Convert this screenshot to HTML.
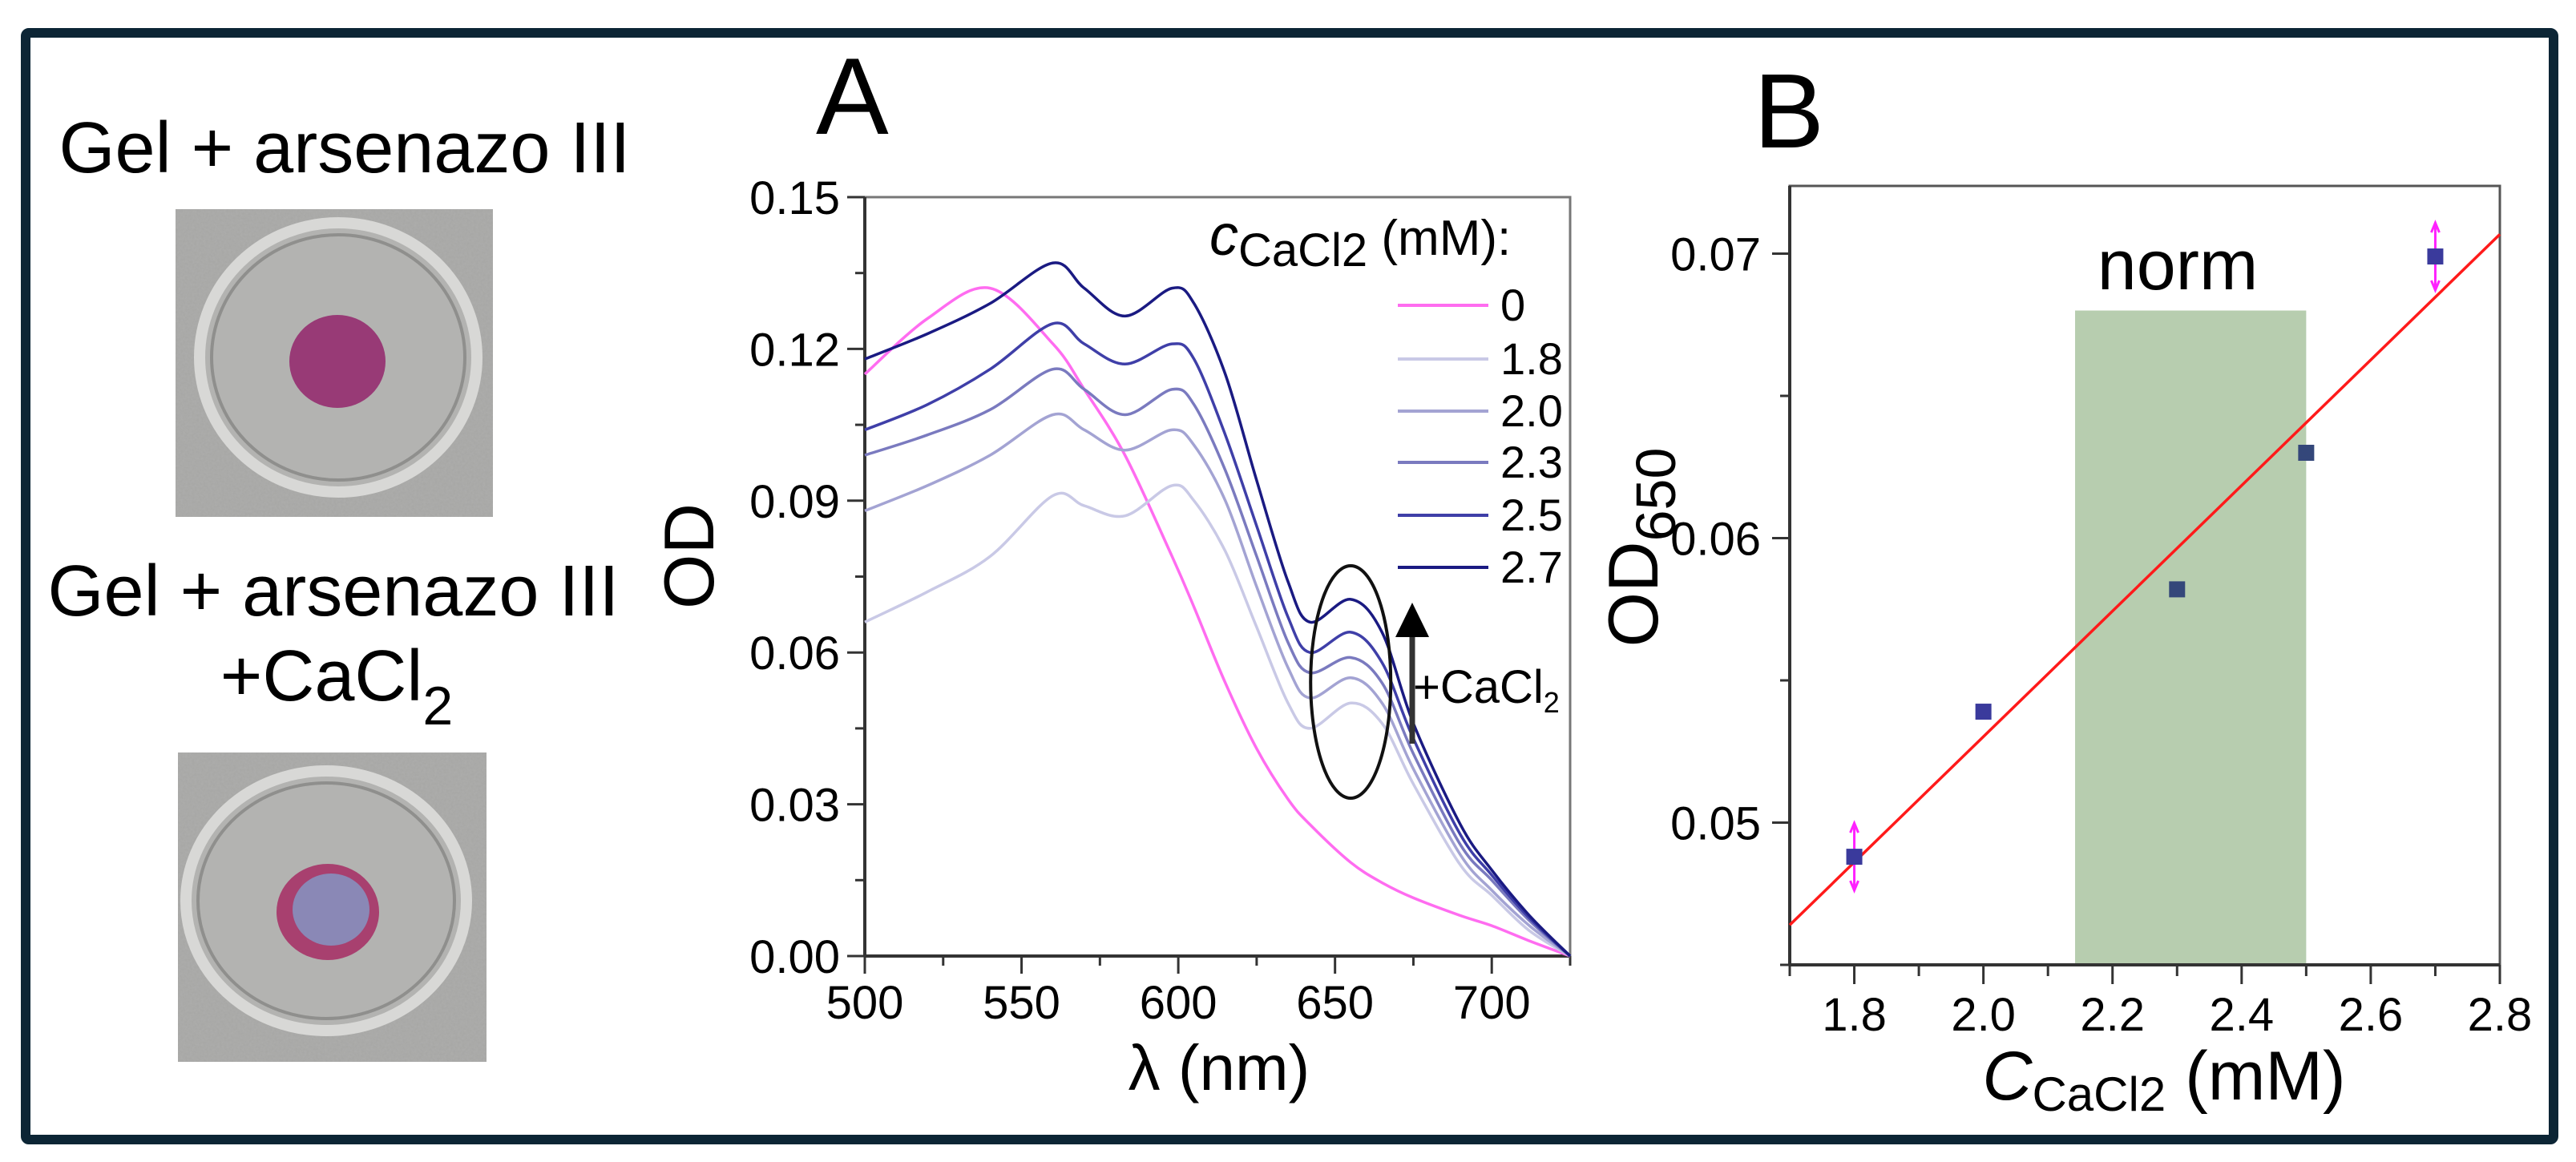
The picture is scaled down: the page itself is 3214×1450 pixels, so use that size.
<!DOCTYPE html>
<html><head><meta charset="utf-8"><style>
html,body{margin:0;padding:0;background:#fff;}
svg{display:block;font-family:"Liberation Sans",Arial,sans-serif;}
</style></head><body>
<svg id="fig" width="3214" height="1450" viewBox="0 0 3214 1450" xmlns="http://www.w3.org/2000/svg">
<defs>
<filter id="grain" x="0" y="0" width="100%" height="100%">
<feTurbulence type="fractalNoise" baseFrequency="0.35" numOctaves="2" seed="3" result="n"/>
<feColorMatrix type="matrix" values="0 0 0 0 0.5  0 0 0 0 0.5  0 0 0 0 0.5  0 0 0 0.35 0"/>
</filter>
</defs>
<rect x="0" y="0" width="3214" height="1450" fill="#fff"/>
<rect x="32" y="41" width="3154" height="1381" fill="none" stroke="#0c2535" stroke-width="12" rx="4"/>

<g>
<text x="430" y="215" font-size="90" text-anchor="middle">Gel + arsenazo III</text>
<g>
<rect x="219" y="261" width="396" height="384" fill="#a6a6a4"/>
<rect x="219" y="261" width="396" height="384" filter="url(#grain)"/>
<ellipse cx="422" cy="446" rx="173" ry="168" fill="#b3b3b1" stroke="#d8d8d6" stroke-width="14"/>
<ellipse cx="422" cy="446" rx="158" ry="153" fill="none" stroke="#8f8f8d" stroke-width="4"/>
<ellipse cx="421" cy="451" rx="60" ry="58" fill="#983a76"/>
</g>
<text x="416" y="768" font-size="90" text-anchor="middle">Gel + arsenazo III</text>
<text x="420" y="874" font-size="90" text-anchor="middle">+CaCl<tspan font-size="68" dy="30">2</tspan></text>
<g>
<rect x="222" y="939" width="385" height="386" fill="#a6a6a4"/>
<rect x="222" y="939" width="385" height="386" filter="url(#grain)"/>
<ellipse cx="407" cy="1124" rx="175" ry="162" fill="#b3b3b1" stroke="#d8d8d6" stroke-width="14"/>
<ellipse cx="407" cy="1124" rx="160" ry="147" fill="none" stroke="#8f8f8d" stroke-width="4"/>
<ellipse cx="409" cy="1138" rx="64" ry="60" fill="#a8406f"/>
<ellipse cx="413" cy="1135" rx="48" ry="45" fill="#8a88b6"/>
</g>
</g>

<g id="chartA"></g>
<g id="chartB"></g>
</svg>
<script>
// ===== Chart A data =====
const waveA = [500,520,540,560,570,583,598,605,615,625,635,642,655,665,675,690,700,712,725];
const concLabelsA = ["0","1.8","2.0","2.3","2.5","2.7"];
const od_0   = [0.115,0.126,0.132,0.121,0.112,0.099,0.079,0.069,0.054,0.041,0.031,0.026,0.0185,0.0145,0.0115,0.008,0.006,0.003,0];
const od_1_8 = [0.066,0.072,0.079,0.091,0.089,0.087,0.093,0.090,0.080,0.065,0.050,0.045,0.050,0.046,0.034,0.018,0.012,0.005,0];
const od_2_0 = [0.088,0.093,0.099,0.107,0.104,0.100,0.104,0.101,0.090,0.073,0.057,0.051,0.055,0.050,0.037,0.020,0.013,0.006,0];
const od_2_3 = [0.099,0.103,0.108,0.116,0.112,0.107,0.112,0.109,0.096,0.079,0.062,0.056,0.059,0.054,0.040,0.022,0.015,0.007,0];
const od_2_5 = [0.104,0.109,0.116,0.125,0.121,0.117,0.121,0.118,0.103,0.085,0.067,0.060,0.064,0.058,0.043,0.024,0.016,0.0075,0];
const od_2_7 = [0.118,0.123,0.129,0.137,0.132,0.1265,0.132,0.129,0.115,0.094,0.074,0.066,0.0705,0.064,0.046,0.026,0.017,0.008,0];
const xTicksA = [500,550,600,650,700];
const yTicksA = [0,0.03,0.06,0.09,0.12,0.15];
// ===== Chart B data =====
const concB = [1.8,2.0,2.3,2.5,2.7];
const od650B = [0.0488,0.0539,0.0582,0.0630,0.0699];
const xTicksB = [1.8,2.0,2.2,2.4,2.6,2.8];
const yTicksB = [0.05,0.06,0.07];
const normRange = [2.142,2.5];
const normTop = [0.068];

const NS="http://www.w3.org/2000/svg";
function mk(tag, attrs, parent, txt){const e=document.createElementNS(NS,tag);for(const k in attrs)e.setAttribute(k,attrs[k]);if(txt!==undefined)e.textContent=txt;parent.appendChild(e);return e;}
function smooth(pts){let d="M"+pts[0][0].toFixed(1)+","+pts[0][1].toFixed(1);for(let i=0;i<pts.length-1;i++){const p0=pts[Math.max(0,i-1)],p1=pts[i],p2=pts[i+1],p3=pts[Math.min(pts.length-1,i+2)];const c1=[p1[0]+(p2[0]-p0[0])/6,p1[1]+(p2[1]-p0[1])/6],c2=[p2[0]-(p3[0]-p1[0])/6,p2[1]-(p3[1]-p1[1])/6];d+=" C"+c1[0].toFixed(1)+","+c1[1].toFixed(1)+" "+c2[0].toFixed(1)+","+c2[1].toFixed(1)+" "+p2[0].toFixed(1)+","+p2[1].toFixed(1);}return d;}

// ---- Chart A ----
(function(){
const g=document.getElementById('chartA');
const L=1079,R=1959,T=246,B=1193;
const xA=v=>L+(v-500)*(R-L)/225;
const yA=v=>B-v*(B-T)/0.15;
let t;
t=mk('text',{x:1018,y:167,'font-size':136},g,'A');


let fr=mk('rect',{x:L,y:T,width:R-L,height:B-T,fill:'none',stroke:'#777','stroke-width':3},g);


let ax=mk('line',{x1:L,y1:B,x2:R,y2:B,stroke:'#333','stroke-width':4},g);


let ay=mk('line',{x1:L,y1:T,x2:L,y2:B,stroke:'#333','stroke-width':4},g);


for(let v=500;v<=725;v+=25){const major=(v%50===0);const tk=mk('line',{x1:xA(v),y1:B,x2:xA(v),y2:B+(major?22:12),stroke:'#333','stroke-width':3},g);

}
xTicksA.forEach(v=>{const e=mk('text',{x:xA(v),y:1271,'font-size':58,'text-anchor':'middle'},g,String(v));

});
for(let i=0;i<=10;i++){const v=i*0.015;const major=(i%2===0);const tk=mk('line',{x1:L,y1:yA(v),x2:L-(major?22:12),y2:yA(v),stroke:'#333','stroke-width':3},g);

}
yTicksA.forEach(v=>{const e=mk('text',{x:1048,y:yA(v)+21,'font-size':58,'text-anchor':'end'},g,v.toFixed(2));

});
t=mk('text',{x:1521,y:1360,'font-size':80,'text-anchor':'middle'},g,'λ (nm)');


t=mk('text',{x:0,y:0,'font-size':88,'text-anchor':'middle',transform:'translate(890,694) rotate(-90)'},g,'OD');


const series=[od_0,od_1_8,od_2_0,od_2_3,od_2_5,od_2_7];
const colors=['#ff6cf0','#c9c9e6','#a3a3d3','#7a7abf','#3f3fa8','#1a1a82'];
series.forEach((s,i)=>{const pts=waveA.map((w,j)=>[xA(w),yA(s[j])]);const p=mk('path',{d:smooth(pts),fill:'none',stroke:colors[i],'stroke-width':3.5},g);

});
t=mk('text',{x:1509,y:318,'font-size':62},g);


mk('tspan',{'font-style':'italic','font-size':72},t,'c');
mk('tspan',{'font-size':58,dy:14},t,'CaCl2');
mk('tspan',{dy:-14},t,' (mM):');
const legY=[381,448,513,577,643,708];
concLabelsA.forEach((c,i)=>{const ln=mk('line',{x1:1744,y1:legY[i],x2:1857,y2:legY[i],stroke:colors[i],'stroke-width':4},g);


const e=mk('text',{x:1872,y:legY[i]+19,'font-size':56},g,c);

});
let el=mk('ellipse',{cx:xA(655),cy:851,rx:50,ry:145,fill:'none',stroke:'#111','stroke-width':4},g);


let sh=mk('line',{x1:1762,y1:928,x2:1762,y2:790,stroke:'#333','stroke-width':7},g);


let hd=mk('polygon',{points:'1741,795 1783,795 1762,752',fill:'#000'},g);


t=mk('text',{x:1763,y:877,'font-size':58},g);


mk('tspan',{},t,'+CaCl');
mk('tspan',{'font-size':36,dy:12},t,'2');
})();

// ---- Chart B ----
(function(){
const g=document.getElementById('chartB');
const L=2233,R=3119,T=232,B=1204;
const xB=v=>L+(v-1.7)*(R-L)/1.1;
const yB=v=>B-(v-0.045)*35500;
let t=mk('text',{x:2188,y:184,'font-size':132},g,'B');


let nr=mk('rect',{x:xB(normRange[0]),y:yB(normTop[0]),width:xB(normRange[1])-xB(normRange[0]),height:B-yB(normTop[0]),fill:'#b7cdaf'},g);


t=mk('text',{x:2717,y:361,'font-size':88,'text-anchor':'middle'},g,'norm');


let fr=mk('rect',{x:L,y:T,width:R-L,height:B-T,fill:'none',stroke:'#555','stroke-width':3},g);


let ax=mk('line',{x1:L,y1:B,x2:R,y2:B,stroke:'#333','stroke-width':4},g);


let ay=mk('line',{x1:L,y1:T,x2:L,y2:B,stroke:'#333','stroke-width':4},g);


for(let i=0;i<=11;i++){const v=1.7+i*0.1;const major=(i%2===1);const tk=mk('line',{x1:xB(v),y1:B,x2:xB(v),y2:B+(major?24:14),stroke:'#333','stroke-width':3},g);

}
xTicksB.forEach(v=>{const e=mk('text',{x:xB(v),y:1286,'font-size':58,'text-anchor':'middle'},g,v.toFixed(1));

});
for(let i=0;i<=5;i++){const v=0.045+i*0.005;const major=(i%2===1);const tk=mk('line',{x1:L,y1:yB(v),x2:L-(major?22:12),y2:yB(v),stroke:'#333','stroke-width':3},g);

}
yTicksB.forEach(v=>{const e=mk('text',{x:2197,y:yB(v)+21,'font-size':58,'text-anchor':'end'},g,v.toFixed(2));

});
t=mk('text',{x:2700,y:1372,'font-size':86,'text-anchor':'middle'},g);


mk('tspan',{'font-style':'italic'},t,'C');
mk('tspan',{'font-size':60,dy:14},t,'CaCl2');
mk('tspan',{dy:-14},t,' (mM)');
t=mk('text',{x:0,y:0,'font-size':88,'text-anchor':'middle',transform:'translate(2068,683) rotate(-90)'},g);


mk('tspan',{},t,'OD');
mk('tspan',{'font-size':70,dy:22},t,'650');
const n=concB.length;const mx=concB.reduce((a,b)=>a+b,0)/n;const my=od650B.reduce((a,b)=>a+b,0)/n;
let sxy=0,sxx=0;for(let i=0;i<n;i++){sxy+=(concB[i]-mx)*(od650B[i]-my);sxx+=(concB[i]-mx)**2;}
const slope=sxy/sxx,icpt=my-slope*mx;
let fl=mk('line',{x1:xB(1.7),y1:yB(icpt+slope*1.7),x2:xB(2.8),y2:yB(icpt+slope*2.8),stroke:'#ff1a1a','stroke-width':3.5},g);


[0,n-1].forEach(i=>{const cx=xB(concB[i]),cy=yB(od650B[i]);
const eb=mk('path',{d:`M${cx},${cy-40} L${cx},${cy+40} M${cx-5},${cy-30} L${cx},${cy-42} L${cx+5},${cy-30} M${cx-5},${cy+30} L${cx},${cy+42} L${cx+5},${cy+30}`,stroke:'#ff22ff','stroke-width':3,fill:'none'},g);

});
concB.forEach((c,i)=>{const s=mk('rect',{x:xB(c)-10,y:yB(od650B[i])-10,width:20,height:20,fill:i===2||i===3?'#34477a':'#3a3a9c'},g);

});
})();
</script>
</body></html>
